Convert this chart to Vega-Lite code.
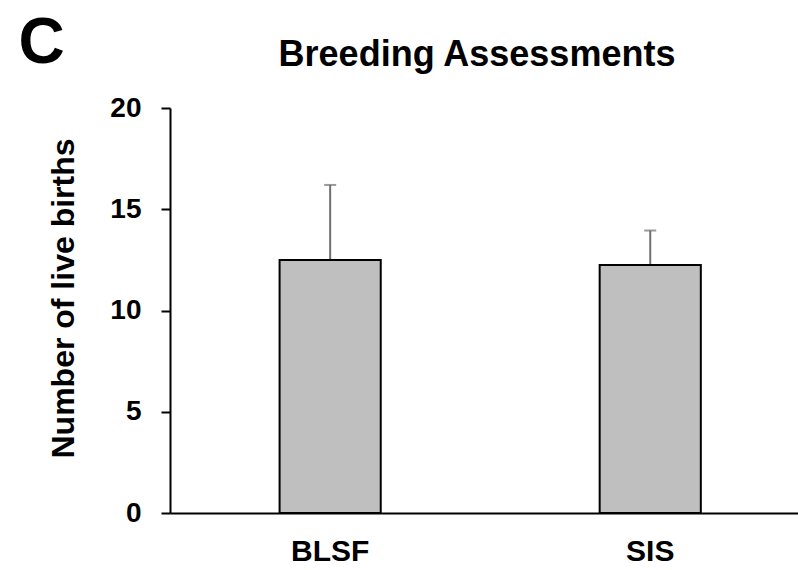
{
  "$schema": "https://vega.github.io/schema/vega-lite/v6.json",
  "autosize": "none",
  "padding": {"left": 170, "top": 108, "right": 0, "bottom": 57},
  "background": "white",
  "width": 628,
  "height": 405,
  "config": {"view": {"stroke": null}, "font": "Liberation Sans"},
  "title": {"text": "Breeding Assessments", "fontSize": 36, "fontWeight": "bold", "font": "Liberation Sans", "color": "black", "anchor": "middle", "frame": "group", "dx": -7, "dy": 85, "offset": 22},
  "data": {"values": [
    {"group": "BLSF", "mean": 12.5, "upper": 16.2},
    {"group": "SIS", "mean": 12.25, "upper": 13.95}
  ]},
  "encoding": {
    "x": {"field": "group", "type": "nominal", "sort": null,
      "scale": {"paddingInner": 0.684, "paddingOuter": 0.323, "align": 0.53},
      "axis": {"title": "C", "titleFontSize": 64, "titleFontWeight": "bold", "titleFont": "Liberation Sans", "titleColor": "black", "titleX": -129, "titleY": -451, "titleAlign": "center", "titleBaseline": "alphabetic", "titleAngle": 0,
        "labelAngle": 0, "ticks": false, "domain": true, "domainColor": "black", "domainWidth": 2, "labelFontSize": 30, "labelFontWeight": "bold", "labelColor": "black", "labelFont": "Liberation Sans", "labelPadding": 23}}
  },
  "layer": [
    {
      "mark": {"type": "rule", "color": "#6f6f6f", "strokeWidth": 2},
      "encoding": {
        "y": {"field": "mean", "type": "quantitative"},
        "y2": {"field": "upper"}
      }
    },
    {
      "mark": {"type": "tick", "color": "#6f6f6f", "thickness": 2, "size": 12, "orient": "horizontal"},
      "encoding": {"y": {"field": "upper", "type": "quantitative"}}
    },
    {
      "mark": {"type": "bar", "color": "#bfbfbf", "stroke": "black", "strokeWidth": 2},
      "encoding": {
        "y": {"field": "mean", "type": "quantitative",
          "scale": {"domain": [0, 20], "nice": false},
          "axis": {"title": "Number of live births", "values": [0, 5, 10, 15, 20], "grid": false, "domainColor": "black", "domainWidth": 2, "tickColor": "black", "tickWidth": 2, "tickSize": 9, "labelFontSize": 28, "labelFontWeight": "bold", "labelColor": "black", "labelFont": "Liberation Sans", "labelPadding": 20, "titleFontSize": 32, "titleFontWeight": "bold", "titleColor": "black", "titleFont": "Liberation Sans", "titlePadding": 29, "titleY": 190}}
      }
    }
  ]
}
